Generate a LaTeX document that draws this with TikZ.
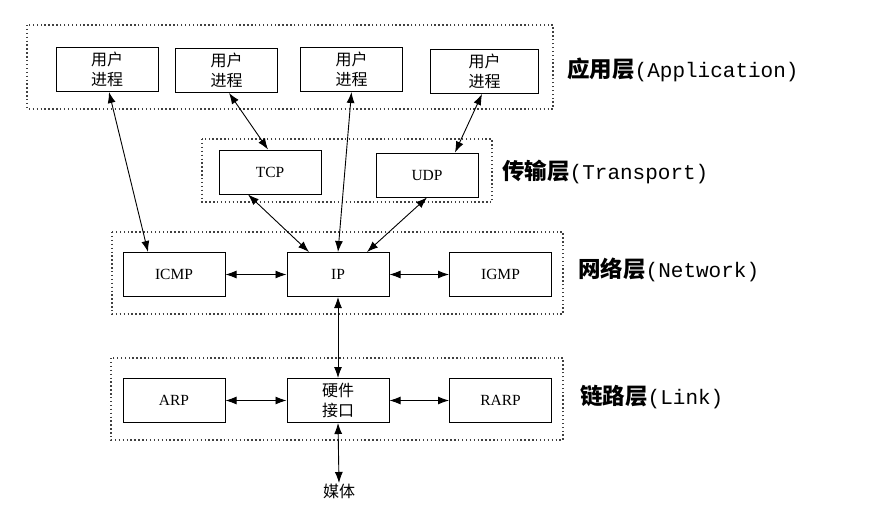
\documentclass[tikz,border=0pt]{standalone}
\usepackage{fontspec}
\setmainfont{Liberation Serif}
\newfontfamily\cjk{Noto Sans CJK SC}
\newfontfamily\lmono{Liberation Mono}
\usetikzlibrary{arrows.meta}
\newcommand{\lbltext}[2]{{\cjk\bfseries\fontsize{22.5}{24}\selectfont #1}{\lmono\fontsize{21}{24}\selectfont #2}}
\begin{document}
\begin{tikzpicture}[x=1pt,y=-1pt,
  box/.style={draw, line width=1pt, minimum width=102pt, minimum height=44pt, inner sep=0pt, align=center, font=\fontsize{15.5}{18}\selectfont},
  cbox/.style={box, font=\cjk\fontsize{16}{19.5}\selectfont},
  layer/.style={draw=black!75, line width=1.5pt, dash pattern=on 1.4pt off 2.5pt},
  arr/.style={{Latex[length=11pt,width=8pt]}-{Latex[length=11pt,width=8pt]}, line width=0.9pt},
  lbl/.style={anchor=west, inner sep=0pt}]
\useasboundingbox[fill=white] (0,0) rectangle (893,524);

% layer frames
\draw[layer] (27,25) rectangle (553,109);
\draw[layer] (202,139) rectangle (492,202);
\draw[layer] (112,232) rectangle (563,314);
\draw[layer] (111,358) rectangle (563,440);

% application
\node[cbox] (u1) at (107,69.5) {用户\\进程};
\node[cbox] (u2) at (226.5,70.5) {用户\\进程};
\node[cbox] (u3) at (351.5,69.5) {用户\\进程};
\node[cbox, minimum width=108pt] (u4) at (484.5,71.5) {用户\\进程};

% transport
\node[box] (tcp) at (270,172) {TCP};
\node[box] (udp) at (427,175) {UDP};

% network
\node[box] (icmp) at (174,274.5) {ICMP};
\node[box] (ip) at (338,274.5) {IP};
\node[box] (igmp) at (500.5,274.5) {IGMP};

% link
\node[box] (arp) at (174,400.5) {ARP};
\node[cbox] (hw) at (338,400.5) {硬件\\接口};
\node[box] (rarp) at (500.5,400.5) {RARP};

\node[font=\cjk\fontsize{16}{19}\selectfont, inner sep=1pt, anchor=north] (media) at (339,483) {媒体};

% labels
\node[lbl] (lapp) at (567,70) {\lbltext{应用层}{(Application)}};
\node[lbl] (ltr) at (502,172) {\lbltext{传输层}{(Transport)}};
\node[lbl] (lnet) at (578,270) {\lbltext{网络层}{(Network)}};
\node[lbl] (llink) at (580,397) {\lbltext{链路层}{(Link)}};

% connectors
\draw[arr] ([xshift=2pt]u1.south) -- ([xshift=-26pt]icmp.north);
\draw[arr] ([xshift=2.5pt]u2.south) -- ([xshift=-2pt]tcp.north);
\draw[arr] (u3.south) -- (ip.north);
\draw[arr] ([xshift=-2.5pt]u4.south) -- ([xshift=28pt]udp.north);
\draw[arr] ([xshift=-22pt]tcp.south) -- ([xshift=-29pt]ip.north);
\draw[arr] (udp.south) -- ([xshift=29pt]ip.north);
\draw[arr] (icmp.east) -- (ip.west);
\draw[arr] (ip.east) -- (igmp.west);
\draw[arr] (ip.south) -- (hw.north);
\draw[arr] (arp.east) -- (hw.west);
\draw[arr] (hw.east) -- (rarp.west);
\draw[arr] (hw.south) -- (media.north);
\end{tikzpicture}
\end{document}
